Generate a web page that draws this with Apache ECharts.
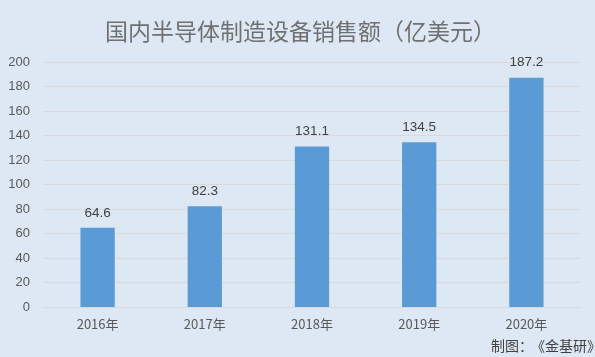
<!DOCTYPE html>
<html><head><meta charset="utf-8">
<script src="https://cdn.jsdelivr.net/npm/echarts@6/dist/echarts.min.js"></script>
<style>html,body{margin:0;padding:0;background:#dde8f4;}#c{width:595px;height:357px;}</style>
</head><body><div id="c"></div>
<script>
const categories = ['2016年','2017年','2018年','2019年','2020年'];
const values = [64.6, 82.3, 131.1, 134.5, 187.2];
const titleText = '国内半导体制造设备销售额（亿美元）';
const sourceLabel = '制图：';
const sourceName = '《金基研》';
const chart = echarts.init(document.getElementById('c'));
const footFont = {fontFamily: 'Noto Sans CJK SC', fontSize: 14, fill: '#404040'};
chart.setOption({
  backgroundColor: '#dde8f4',
  animation: false,
  title: {text: titleText, left: 100, top: 15,
    textStyle: {fontFamily: 'Noto Sans CJK SC', fontSize: 23, fontWeight: 'normal', color: '#707070'}},
  graphic: [
    {type: 'text', left: 491, top: 339, style: Object.assign({text: sourceLabel}, footFont)},
    {type: 'text', left: 531, top: 339, style: Object.assign({text: sourceName}, footFont)}
  ],
  grid: {left: 44, right: 15, top: 62, bottom: 50},
  xAxis: {type: 'category', data: categories,
    axisLine: {lineStyle: {color: '#d9d9d9'}}, axisTick: {show: false},
    axisLabel: {color: '#595959', fontSize: 13, margin: 11, fontFamily: 'Noto Sans CJK SC'}},
  yAxis: {type: 'value', min: 0, max: 200, interval: 20,
    axisLine: {show: false}, axisTick: {show: false},
    splitLine: {lineStyle: {color: '#d9d9d9'}},
    axisLabel: {color: '#595959', fontSize: 13, margin: 14, fontFamily: 'Liberation Sans'}},
  series: [{type: 'bar', data: values, barWidth: '32%',
    itemStyle: {color: '#5b9bd5'},
    label: {show: true, position: 'top', distance: 8, color: '#404040', fontSize: 13.5, fontFamily: 'Liberation Sans',
      formatter: p => p.value.toFixed(1)}}]
});
</script></body></html>
